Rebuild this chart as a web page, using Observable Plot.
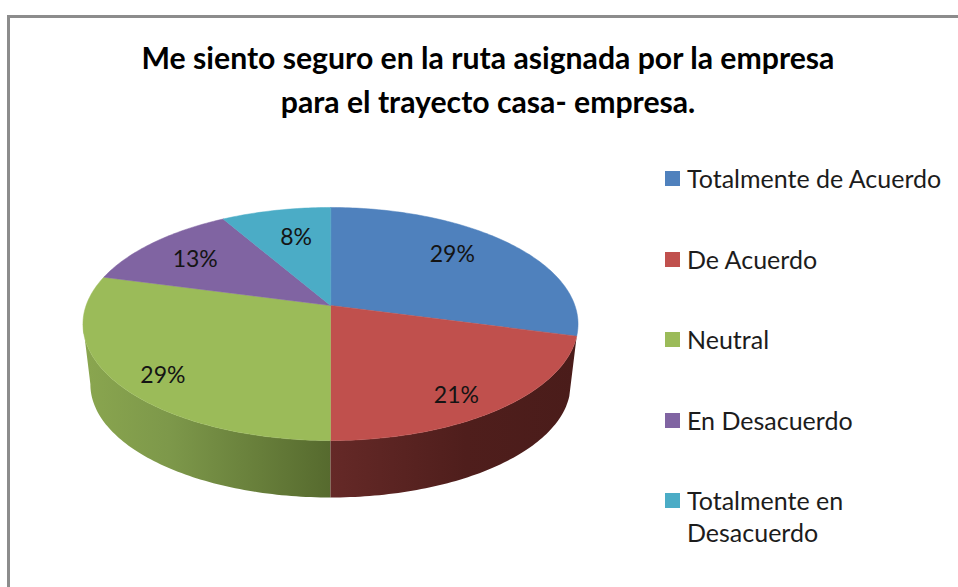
<!DOCTYPE html>
<html lang="es">
<head>
<meta charset="utf-8">
<script src="https://cdn.jsdelivr.net/npm/d3@7"></script>
<script src="https://cdn.jsdelivr.net/npm/@observablehq/plot@0.6"></script>
<style>
  html, body { margin: 0; padding: 0; background: #fff; }
  #page { position: relative; width: 958px; height: 587px; overflow: hidden; font-family: Lato, "Noto Sans", sans-serif; color: #111; }
  #frame { position: absolute; left: 7px; top: 15px; width: 960px; height: 590px; border: 3px solid #8c8c8c; border-right: 0; border-bottom: 0; box-sizing: border-box; }
  #title { position: absolute; left: 88px; top: 35px; width: 800px; text-align: center; font-size: 30.2px; line-height: 44px; font-weight: 700; color: #000; }
  #chart { position: absolute; left: 0; top: 130px; }
  #legend { position: absolute; left: 665px; top: 162px; width: 290px; font-size: 25px; line-height: 32px; color: #1c1c1c; }
  .item { display: flex; align-items: flex-start; gap: 7px; height: 80.5px; }
  .swatch { flex: none; width: 15px; height: 15px; margin-top: 9px; }
</style>
</head>
<body>
<div id="page">
  <div id="frame"></div>
  <div id="title"></div>
  <div id="chart"></div>
  <div id="legend"></div>
</div>
<script>
// Data
const titleLines = ["Me siento seguro en la ruta asignada por la empresa", "para el trayecto casa- empresa."];
const categories = ["Totalmente de Acuerdo", "De Acuerdo", "Neutral", "En Desacuerdo", "Totalmente en Desacuerdo"];
const percentages = [29.17, 20.83, 29.17, 12.5, 8.33];
const colors = ["#4f81bd", "#c0504d", "#9bbb59", "#8064a2", "#4bacc6"];

// Perspective settings for the 3D pie, in the chart's model units
const view = {A: 244.4, a: 113.6, p: 0.1588, depth: 61, floorScale: 0.97};
const labelRadius = [0.71, 0.77, 0.78, 0.76, 0.69];
const labelDx = [-7, -1, -4, 2, 5];
const labelDy = [-5, 13, 12, 3, 1];
const silhouette = 261; // degrees: left tangent of the cylinder wall
const plotW = 650, plotH = 400, cx = 330, cy = 175;

const total = d3.sum(percentages);
let run = 0;
const slices = categories.map((category, i) => {
  const start = run / total * 360;
  run += percentages[i];
  return {category, value: percentages[i], start, end: run / total * 360, i};
});

const rad = d => d * Math.PI / 180;
function project(deg, r = 1) {
  const w = 1 + view.p * r * Math.cos(rad(deg));
  return [view.A * r * Math.sin(rad(deg)) / w, -view.a * r * Math.cos(rad(deg)) / w];
}
function floor(deg) {
  const [x, y] = project(deg);
  return [x * view.floorScale, y * view.floorScale + view.depth];
}
const arc = (from, to) => d3.range(from, to, 1).concat(to);

// Upper face of each slice
const tops = slices.flatMap(s => [
  {category: s.category, x: 0, y: 0},
  ...arc(s.start, s.end).map(d => { const [x, y] = project(d); return {category: s.category, x, y}; })
]);

// Visible wall of a slice: upper rim forward, lower rim back
function wall(from, to) {
  const a = arc(from, to);
  return [
    ...a.map(d => { const [x, y] = project(d); return {x, y}; }),
    ...a.slice().reverse().map(d => { const [x, y] = floor(d); return {x, y}; })
  ];
}
const redWall = wall(slices[1].start, slices[1].end);
const greenWall = wall(slices[2].start, Math.min(slices[2].end, silhouette));

const labels = slices.map(s => {
  const [x, y] = project((s.start + s.end) / 2, labelRadius[s.i]);
  return {x: x + labelDx[s.i], y: y + labelDy[s.i], text: Math.round(s.value) + "%"};
});

// Gradients referenced by the two wall marks
function gradients() {
  const defs = d3.create("svg:defs");
  const add = (id, stops) => {
    const g = defs.append("linearGradient").attr("id", id).attr("x1", 0).attr("x2", 1).attr("y1", 0).attr("y2", 0);
    stops.forEach(([o, c]) => g.append("stop").attr("offset", o).attr("stop-color", c));
  };
  add("wall-red", [[0, "#652927"], [0.55, "#4f1e1c"], [1, "#4a1c1a"]]);
  add("wall-green", [[0, "#8aa64f"], [0.35, "#7d984a"], [1, "#566a2e"]]);
  return defs.node();
}

const chart = Plot.plot({
  width: plotW,
  height: plotH,
  margin: 0,
  x: {domain: [-cx, plotW - cx], range: [0, plotW], axis: null},
  y: {domain: [-cy, plotH - cy], range: [0, plotH], axis: null},
  color: {domain: categories, range: colors},
  style: {background: "transparent", overflow: "visible"},
  marks: [
    gradients,
    Plot.line(greenWall, {x: "x", y: "y", curve: "linear-closed", fill: "url(#wall-green)", stroke: "none"}),
    Plot.line(redWall, {x: "x", y: "y", curve: "linear-closed", fill: "url(#wall-red)", stroke: "none"}),
    Plot.line(tops, {x: "x", y: "y", z: "category", curve: "linear-closed", fill: "category", stroke: "category", strokeWidth: 0.5}),
    Plot.text(labels, {x: "x", y: "y", text: "text", fontSize: 23, fontFamily: "Lato, sans-serif", fill: "#141414"})
  ]
});
document.getElementById("chart").append(chart);

const titleEl = document.getElementById("title");
titleLines.forEach(t => { const d = document.createElement("div"); d.textContent = t; titleEl.append(d); });

const legendEl = document.getElementById("legend");
categories.forEach((c, i) => {
  const item = document.createElement("div"); item.className = "item";
  const sw = document.createElement("span"); sw.className = "swatch"; sw.style.background = colors[i];
  const tx = document.createElement("span"); tx.textContent = c;
  item.append(sw, tx); legendEl.append(item);
});
</script>
</body>
</html>
